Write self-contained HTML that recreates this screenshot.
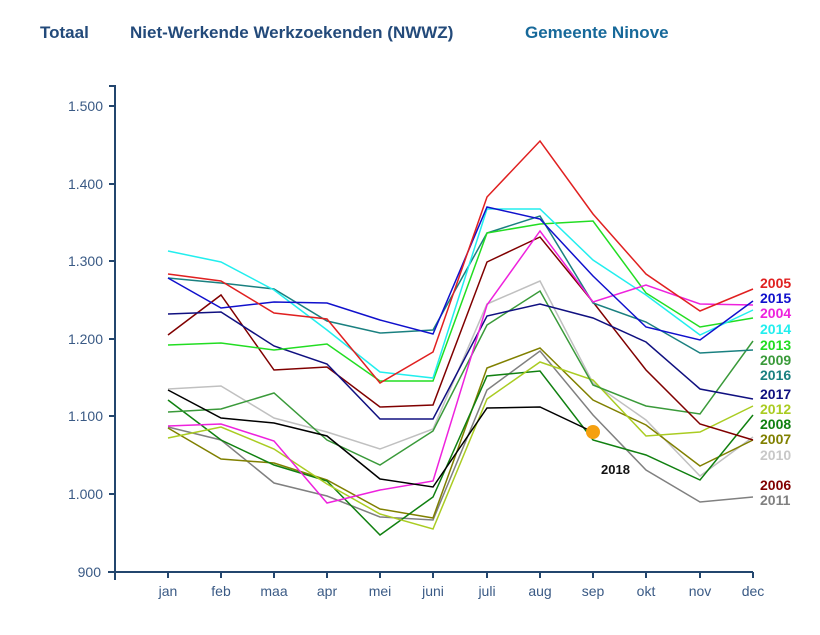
<!DOCTYPE html>
<html><head><meta charset="utf-8"><style>
body{margin:0;background:#fff;width:820px;height:635px;overflow:hidden;font-family:"Liberation Sans",sans-serif}
.t{position:absolute;top:23px;font-size:17px;font-weight:bold;color:#234a7a}
</style></head><body>
<div class="t" style="left:40px">Totaal</div>
<div class="t" style="left:130px">Niet-Werkende Werkzoekenden (NWWZ)</div>
<div class="t" style="left:525px;color:#17699a">Gemeente Ninove</div>
<svg width="820" height="635" style="position:absolute;left:0;top:0" font-family="Liberation Sans, sans-serif">
<g stroke="#23466e" stroke-width="2" fill="none">
<path d="M109,86H115V580"/><path d="M108,572H753"/>
<path d="M109,106H115M109,184H115M109,261H115M109,339H115M109,416H115M109,494H115"/>
<path d="M168,572v6M221,572v6M274,572v6M327,572v6M380,572v6M433,572v6M487,572v6M540,572v6M593,572v6M646,572v6M700,572v6M753,572v6"/>
</g>
<g fill="#3a5a85" font-size="14" text-anchor="end">
<text x="103" y="111">1.500</text><text x="103" y="189">1.400</text><text x="103" y="266">1.300</text><text x="103" y="344">1.200</text><text x="103" y="421">1.100</text><text x="103" y="499">1.000</text><text x="101" y="577">900</text>
</g>
<g fill="#3a5a85" font-size="14" text-anchor="middle">
<text x="168" y="596">jan</text><text x="221" y="596">feb</text><text x="274" y="596">maa</text><text x="327" y="596">apr</text><text x="380" y="596">mei</text><text x="433" y="596">juni</text><text x="487" y="596">juli</text><text x="540" y="596">aug</text><text x="593" y="596">sep</text><text x="646" y="596">okt</text><text x="700" y="596">nov</text><text x="753" y="596">dec</text>
</g>
<g fill="none" stroke-width="1.5">
<polyline stroke="#c0c0c0" points="168,389 221,386 274,418 327,432 380,449 433,429 487,304 540,281 593,383 646,420 700,476 753,437"/>
<polyline stroke="#808080" points="168,427 221,440 274,483 327,496 380,517 433,520 487,390 540,351 593,415 646,470 700,502 753,497"/>
<polyline stroke="#808000" points="168,428 221,459 274,463 327,480 380,509 433,518 487,368 540,348 593,400 646,425 700,466 753,440"/>
<polyline stroke="#108010" points="168,400 221,440 274,465 327,481 380,535 433,497 487,376 540,371 593,440 646,455 700,480 753,415"/>
<polyline stroke="#aacc22" points="168,438 221,427 274,449 327,484 380,514 433,529 487,399 540,362 593,380 646,436 700,432 753,406"/>
<polyline stroke="#3a9a3a" points="168,412 221,409 274,393 327,440 380,465 433,431 487,325 540,291 593,385 646,406 700,414 753,341"/>
<polyline stroke="#800000" points="168,335 221,295 274,370 327,367 380,407 433,405 487,262 540,237 593,302 646,370 700,424 753,440"/>
<polyline stroke="#101080" points="168,314 221,312 274,346 327,364 380,419 433,419 487,316 540,304 593,318 646,342 700,389 753,399"/>
<polyline stroke="#1a8080" points="168,278 221,283 274,289 327,321 380,333 433,330 487,233 540,216 593,303 646,322 700,353 753,350"/>
<polyline stroke="#22dd22" points="168,345 221,343 274,350 327,344 380,381 433,381 487,233 540,224 593,221 646,293 700,327 753,318"/>
<polyline stroke="#22eeee" points="168,251 221,262 274,290 327,330 380,372 433,378 487,209 540,209 593,260 646,295 700,335 753,310"/>
<polyline stroke="#ee22dd" points="168,426 221,424 274,441 327,503 380,490 433,481 487,305 540,231 593,302 646,285 700,304 753,305"/>
<polyline stroke="#1010cc" points="168,278 221,308 274,302 327,303 380,320 433,334 487,207 540,219 593,276 646,327 700,340 753,301"/>
<polyline stroke="#e02020" points="168,274 221,281 274,313 327,319 380,383 433,352 487,197 540,141 593,214 646,274 700,311 753,289"/>
<polyline stroke="#000" points="168,390 221,418 274,423 327,436 380,479 433,487 487,408 540,407 593,432"/>
</g>
<circle cx="593" cy="432" r="7" fill="#f5a010"/>
<text x="601" y="474" font-size="13" font-weight="bold" fill="#111">2018</text>
<g font-size="14" font-weight="bold">
<text x="760" y="288" fill="#e02020">2005</text>
<text x="760" y="303" fill="#1010cc">2015</text>
<text x="760" y="318" fill="#ee22dd">2004</text>
<text x="760" y="334" fill="#22eeee">2014</text>
<text x="760" y="350" fill="#22dd22">2013</text>
<text x="760" y="365" fill="#3a9a3a">2009</text>
<text x="760" y="380" fill="#1a8080">2016</text>
<text x="760" y="399" fill="#101080">2017</text>
<text x="760" y="414" fill="#aacc22">2012</text>
<text x="760" y="429" fill="#108010">2008</text>
<text x="760" y="444" fill="#808000">2007</text>
<text x="760" y="460" fill="#c8c8c8">2010</text>
<text x="760" y="490" fill="#800000">2006</text>
<text x="760" y="505" fill="#808080">2011</text>
</g>
</svg>
</body></html>
